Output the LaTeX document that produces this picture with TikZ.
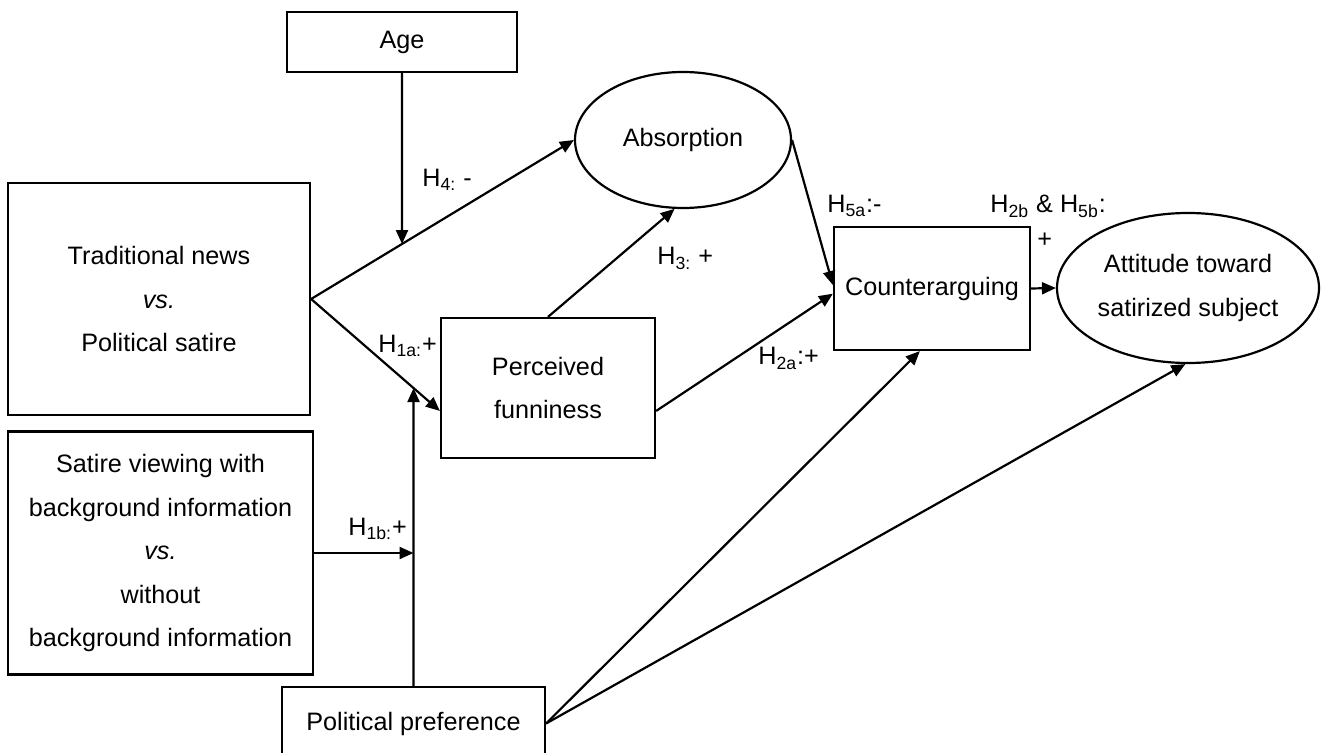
\documentclass[tikz,border=0pt]{standalone}
\usepackage{fontspec}
\setmainfont{Liberation Sans}
\usetikzlibrary{shapes.geometric,arrows.meta}
\tikzstyle{box}=[rectangle, draw, line width=1.1pt, align=center, inner sep=0pt]
\tikzstyle{oval}=[ellipse, draw, line width=1.1pt, align=center, inner sep=0pt]
\tikzstyle{arr}=[-{Triangle[length=7pt,width=6pt]}, line width=1.1pt]
\tikzstyle{hyp}=[anchor=base west, inner sep=0pt]

\begin{document}
\begin{tikzpicture}[x=0.5pt,y=-0.5pt,font=\fontsize{12.6}{21.75}\selectfont]
		   \useasboundingbox (0,0) rectangle (1322,753);
		   \begin{scope}
			   \node (age) at (402,42)[box, minimum width=115pt, minimum height=30pt] {Age};
			   \node (trad) at (159,299)[box, minimum width=151pt, minimum height=116pt] {Traditional news\\\textit{vs.}\\Political satire};
			   \node (satire) at (160.5,553)[box, minimum width=152.5pt, minimum height=121.5pt] {Satire viewing with\\background information\\\textit{vs.}\\without\\background information};
			   \node (polpref) at (413.5,723.5)[box, minimum width=131.5pt, minimum height=36.5pt] {Political preference};
			   \node (fun) at (548,388)[box, minimum width=107pt, minimum height=70pt] {Perceived\\funniness};
			   \node (absorb) at (683,140)[oval, minimum width=108pt, minimum height=68pt] {Absorption};
			   \node (counter) at (932,288.5)[box, minimum width=98pt, minimum height=61.5pt] {Counterarguing};
			   \node (attitude) at (1188,288)[oval, minimum width=131pt, minimum height=75pt] {Attitude toward\\satirized subject};
		   \end{scope}
		   \begin{scope}
			   \coordinate (funin) at (fun.192);
			   \coordinate (agefoot) at (age.south |- trad.south);
			   \coordinate (agehit) at (intersection of age.south--agefoot and trad.east--absorb.west);
			   \coordinate (pptop) at (polpref.north |- age.south);
			   \coordinate (pphit) at (intersection of polpref.north--pptop and trad.east--funin);
			   \coordinate (satin) at (satire.east -| polpref.north);
		   \end{scope}
		   \begin{scope}
			   \path [arr] (age.south) edge (agehit);
			   \path [arr] (trad.east) edge (absorb.west);
			   \path [arr] (trad.east) edge (funin);
			   \path [arr] (polpref.north) edge (pphit);
			   \path [arr] (satire.east) edge (satin);
			   \path [arr] (fun.north) edge (absorb.263);
			   \path [arr] (fun.348) edge (counter.183);
			   \path [arr] (absorb.east) edge (counter.178);
			   \path [arr] (counter.east) edge (attitude.west);
			   \path [arr] (polpref.east) edge (counter.259);
			   \path [arr] (polpref.east) edge (attitude.268);
		   \end{scope}
		   \begin{scope}
			   \node (h4) at (422,187)[hyp] {H\textsubscript{4:} -};
			   \node (h3) at (657,265)[hyp] {H\textsubscript{3:} +};
			   \node (h1a) at (378,353)[hyp] {H\textsubscript{1a:}+};
			   \node (h2a) at (758,365)[hyp] {H\textsubscript{2a}:+};
			   \node (h5a) at (827,213)[hyp] {H\textsubscript{5a}:-};
			   \node (h2b) at (990,213)[hyp] {H\textsubscript{2b} \& H\textsubscript{5b}:};
			   \node (plus) at (1037,248)[hyp] {+};
			   \node (h1b) at (348,535)[hyp] {H\textsubscript{1b:}+};
		   \end{scope}
	   \end{tikzpicture}
\end{document}
